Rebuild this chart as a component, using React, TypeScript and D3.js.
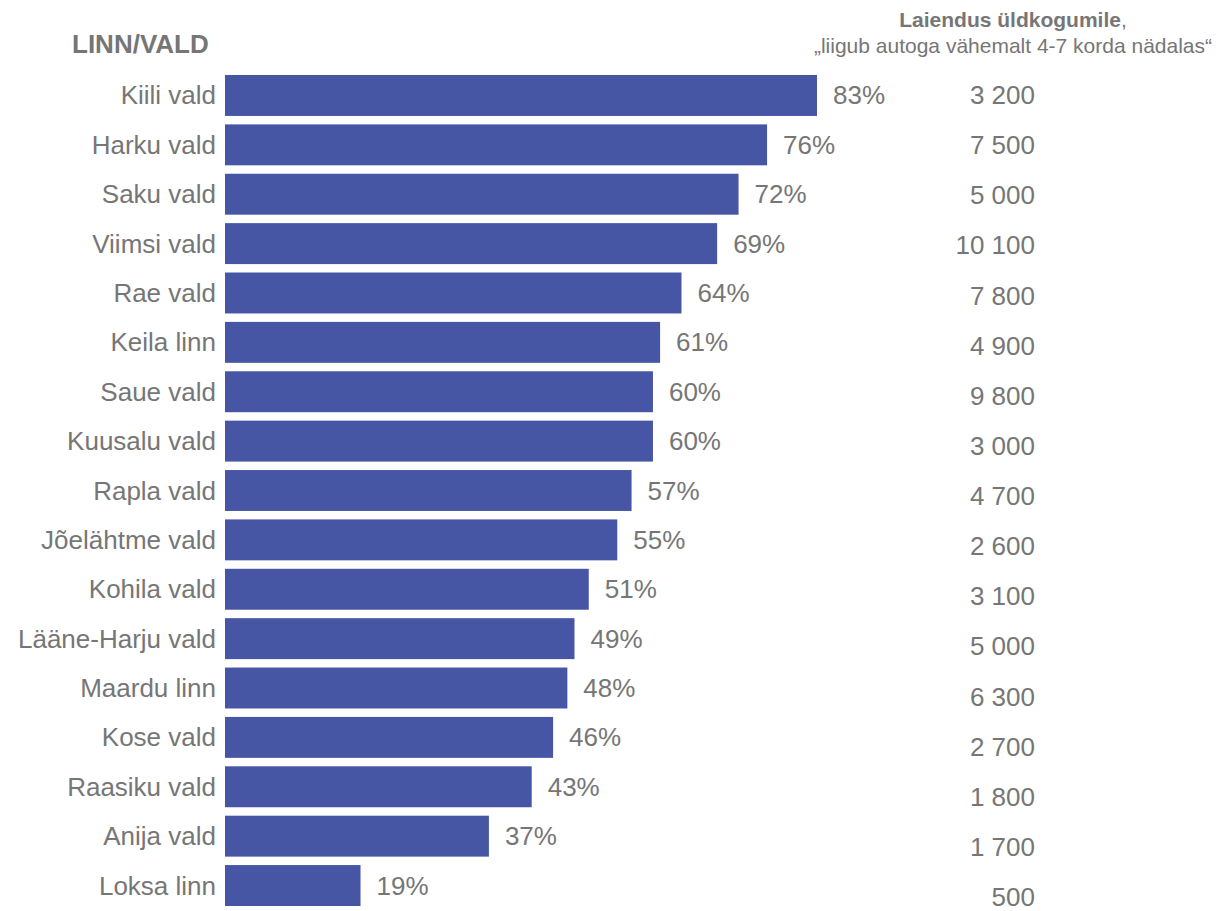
import React from "react";
import * as d3 from "d3";

const categories = [
  "Kiili vald", "Harku vald", "Saku vald", "Viimsi vald", "Rae vald", "Keila linn",
  "Saue vald", "Kuusalu vald", "Rapla vald", "Jõelähtme vald", "Kohila vald",
  "Lääne-Harju vald", "Maardu linn", "Kose vald", "Raasiku vald", "Anija vald", "Loksa linn",
];
const shares = [83, 76, 72, 69, 64, 61, 60, 60, 57, 55, 51, 49, 48, 46, 43, 37, 19];
const extensions = [
  "3 200", "7 500", "5 000", "10 100", "7 800", "4 900", "9 800", "3 000", "4 700",
  "2 600", "3 100", "5 000", "6 300", "2 700", "1 800", "1 700", "500",
];

const W = 1225;
const H = 911;
const FONT = "'Liberation Sans', Arial, sans-serif";
const GRAY = "#767676";
const BAR = "#4755A5";

export default function App() {
  const x = d3.scaleLinear().domain([0, 83]).range([225, 817]);
  const y = d3.scaleBand<string>().domain(categories).range([75, 906]).paddingInner(0.171).paddingOuter(0);
  const yRight = d3.scalePoint<string>().domain(categories).range([104, 906]);

  return (
    <svg width={W} height={H} style={{ position: "absolute", left: 0, top: 0, background: "#fff" }} fontFamily={FONT}>
      <text x={72} y={53} fontSize={26} fontWeight="bold" fill={GRAY}>LINN/VALD</text>
      <text x={1013} y={27} fontSize={21} textAnchor="middle" fill={GRAY}>
        <tspan fontWeight="bold">Laiendus üldkogumile</tspan>,
      </text>
      <text x={1013} y={53} fontSize={21} textAnchor="middle" fill={GRAY}>„liigub autoga vähemalt 4-7 korda nädalas“</text>
      {categories.map((c, i) => {
        const yy = y(c)!;
        const bw = y.bandwidth();
        return (
          <g key={c}>
            <rect x={x(0)} y={yy} width={x(shares[i]) - x(0)} height={bw} fill={BAR} />
            <text x={216} y={yy + bw / 2 + 9} fontSize={26} textAnchor="end" fill={GRAY}>{c}</text>
            <text x={x(shares[i]) + 16} y={yy + bw / 2 + 9} fontSize={26} fill={GRAY}>{shares[i]}%</text>
            <text x={1035} y={yRight(c)!} fontSize={26} textAnchor="end" fill={GRAY}>{extensions[i]}</text>
          </g>
        );
      })}
    </svg>
  );
}
